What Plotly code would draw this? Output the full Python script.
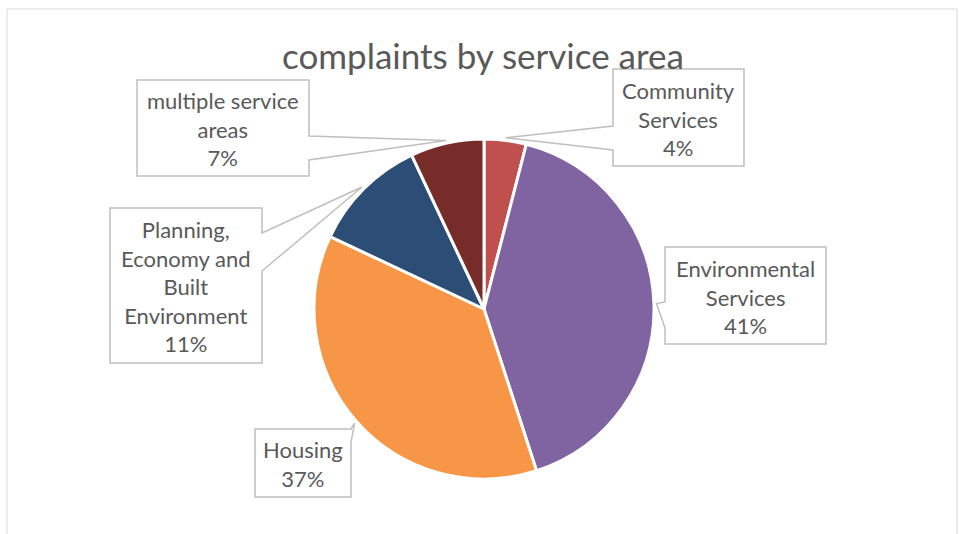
import math
import plotly.graph_objects as go

# ---- data ----
categories = ["Community Services", "Environmental Services", "Housing",
              "Planning, Economy and Built Environment", "multiple service areas"]
values = [4, 41, 37, 11, 7]
label_lines = [["Community", "Services"], ["Environmental", "Services"], ["Housing"],
               ["Planning,", "Economy and", "Built", "Environment"], ["multiple service", "areas"]]
colors = ["#C0504D", "#8064A2", "#F79646", "#2C4D75", "#772C2A"]
title = "complaints by service area"

W, H = 959, 534
CX, CY, R = 484, 309, 170
TXT = "#595959"
LINE = "#BFBFBF"
FONT = "Lato"

# callout boxes (pixel layout): x0, y0, x1, y1, side, a, b
boxes = [
    (613, 69, 744, 166, "left", 126, 150),
    (665, 247, 826, 344, "left", 302, 328),
    (255, 429, 351, 497, "right", 429, 442),
    (110, 208, 262, 363, "right", 233, 271),
    (137, 80, 309, 176, "right", 136, 160),
]

def px(x):
    return x / W

def py(y):
    return 1 - y / H

def callout_path(box, tip):
    x0, y0, x1, y1, side, a, b = box
    pts = [(x0, y0)]
    if side == "top":
        pts += [(a, y0), tip, (b, y0)]
    pts.append((x1, y0))
    if side == "right":
        pts += [(x1, a), tip, (x1, b)]
    pts.append((x1, y1))
    if side == "bottom":
        pts += [(b, y1), tip, (a, y1)]
    pts.append((x0, y1))
    if side == "left":
        pts += [(x0, b), tip, (x0, a)]
    d = "M " + " L ".join(f"{px(x):.5f},{py(y):.5f}" for x, y in pts) + " Z"
    return d

fig = go.Figure()
fig.add_trace(go.Pie(
    labels=categories, values=values, sort=False, direction="clockwise", rotation=0,
    marker=dict(colors=colors, line=dict(color="white", width=3)),
    textinfo="none", hoverinfo="label+percent", showlegend=False,
    domain=dict(x=[px(CX - R), px(CX + R)], y=[py(CY + R), py(CY - R)]),
))

total = sum(values)
shapes = [dict(type="rect", xref="paper", yref="paper", x0=px(7), x1=px(957), y0=py(540), y1=py(9),
               line=dict(color="#D9D9D9", width=1), fillcolor="rgba(0,0,0,0)", layer="below")]
annotations = []
cum = 0
for i, v in enumerate(values):
    mid = (cum + v / 2) / total * 2 * math.pi
    cum += v
    tip = (CX + R * 1.015 * math.sin(mid), CY - R * 1.015 * math.cos(mid))
    box = boxes[i]
    shapes.append(dict(type="path", xref="paper", yref="paper", path=callout_path(box, tip),
                       line=dict(color=LINE, width=1.5), fillcolor="white", layer="above"))
    pct = f"{round(v / total * 100)}%"
    text = "<br>".join(label_lines[i] + [pct])
    annotations.append(dict(x=px((box[0] + box[2]) / 2), y=py((box[1] + box[3]) / 2 + 1),
                            xref="paper", yref="paper", text=text, showarrow=False,
                            xanchor="center", yanchor="middle",
                            font=dict(family=FONT, size=22, color=TXT)))

annotations.append(dict(x=px(483), y=py(55), xref="paper", yref="paper", text=title,
                        showarrow=False, xanchor="center", yanchor="middle",
                        font=dict(family=FONT, size=35, color=TXT)))

fig.update_layout(width=W, height=H, margin=dict(l=0, r=0, t=0, b=0),
                  paper_bgcolor="white", plot_bgcolor="white",
                  shapes=shapes, annotations=annotations)
fig.write_html("out.html")
